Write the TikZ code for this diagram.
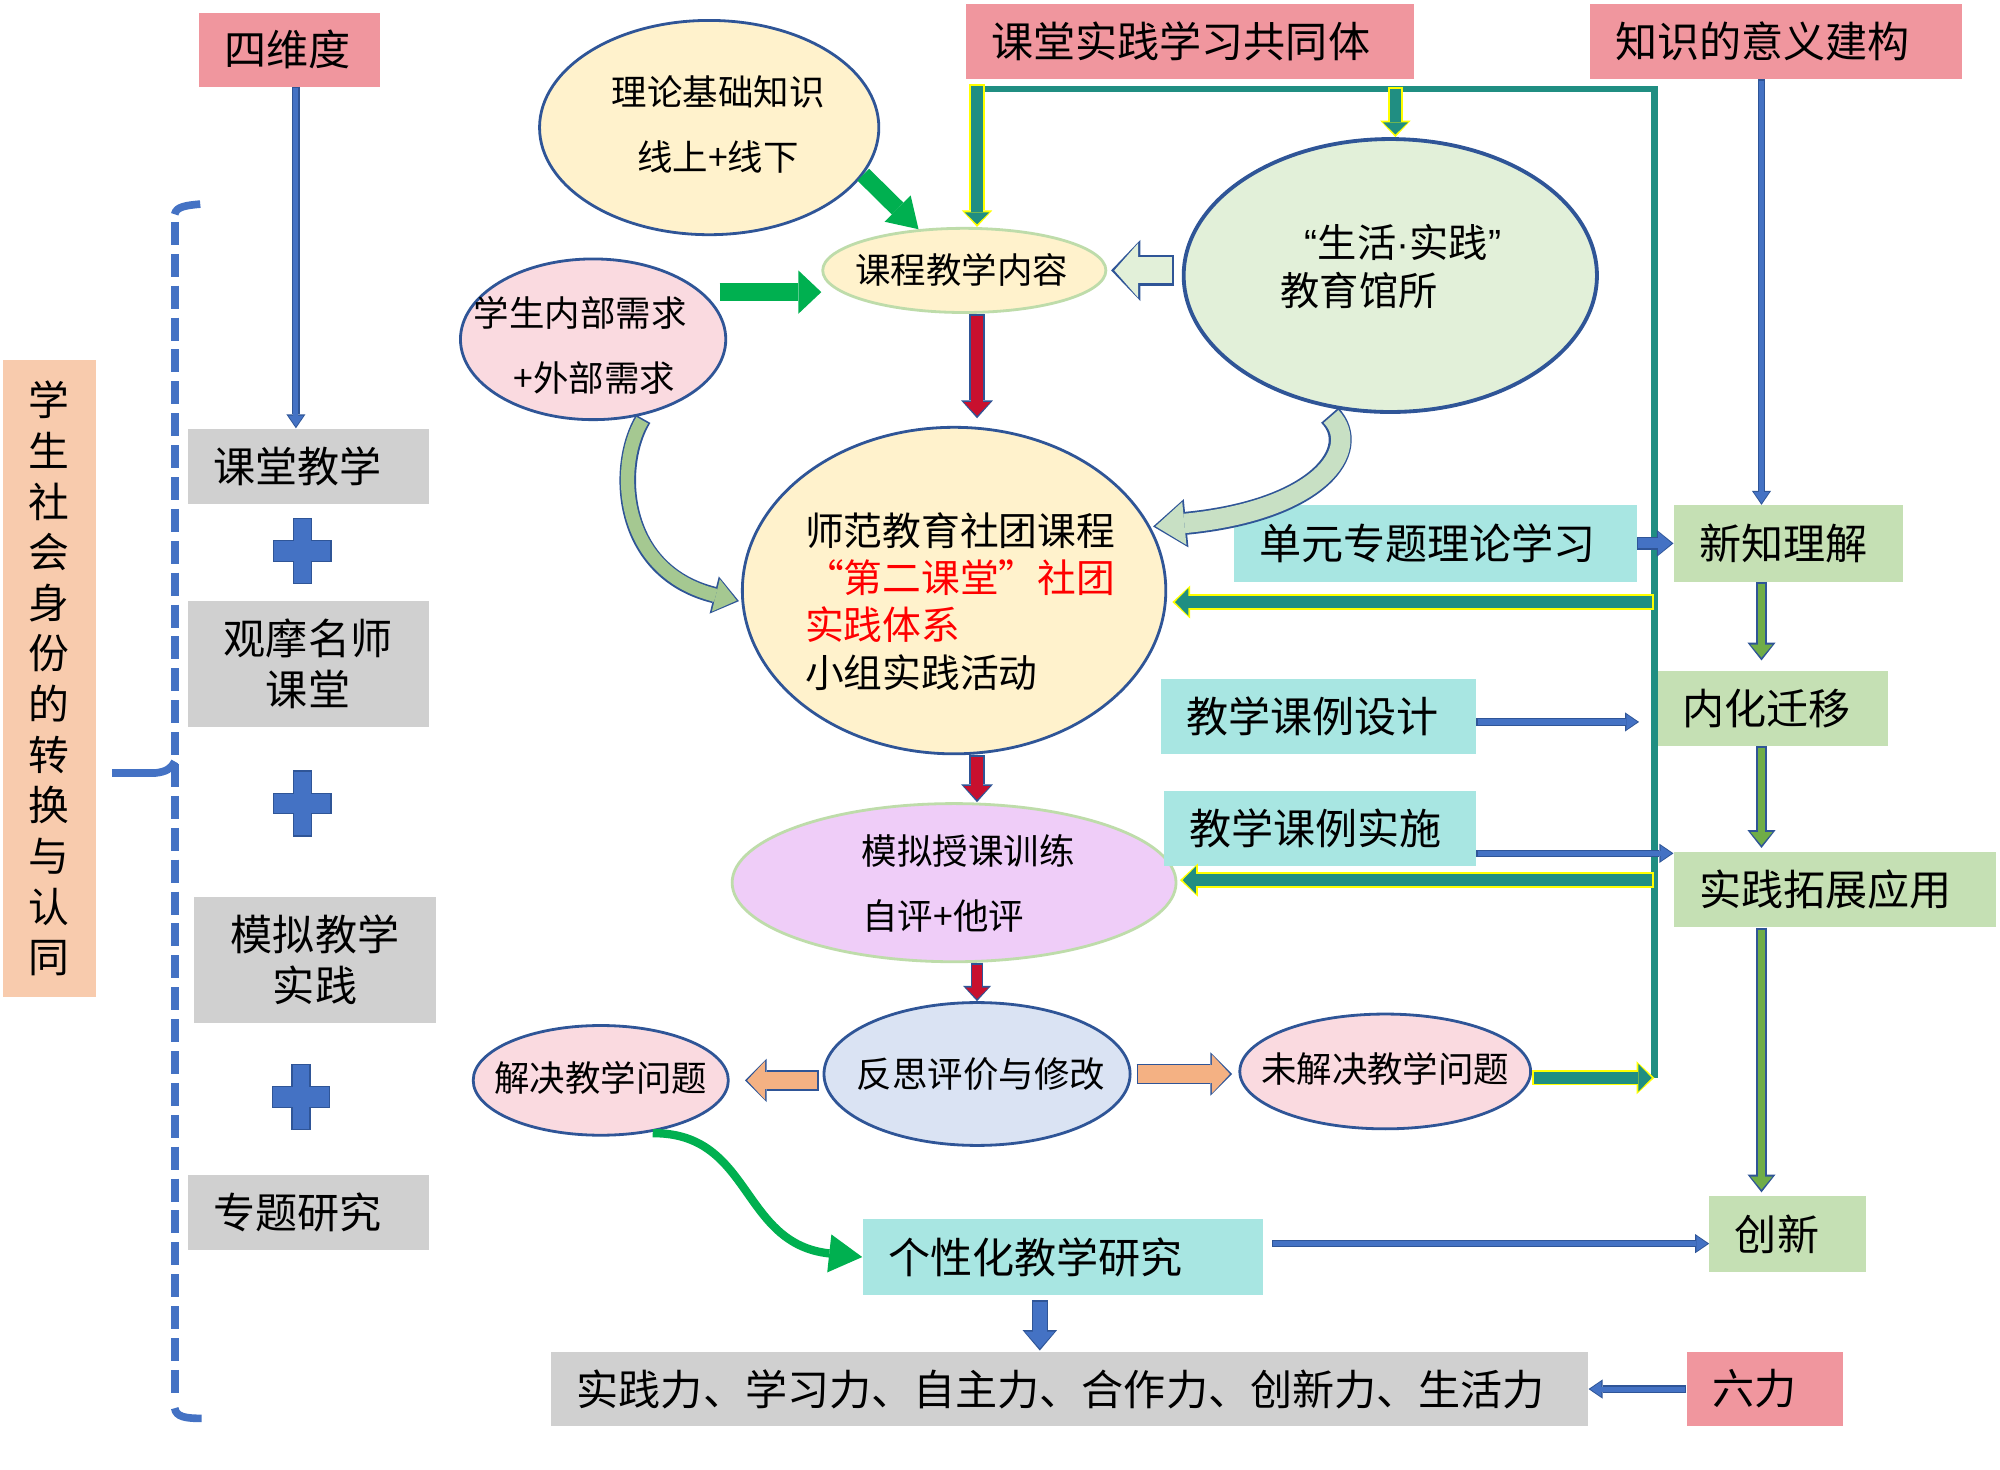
\documentclass[tikz,border=0pt]{standalone}
\usepackage{fontspec}
\setmainfont{Noto Sans CJK SC}
\newfontfamily\latinf{Liberation Sans}
\usetikzlibrary{shapes.geometric,arrows.meta,calc}
\definecolor{pinkc}{RGB}{240,150,158}
\definecolor{grayc}{RGB}{208,208,208}
\definecolor{cyanc}{RGB}{168,230,226}
\definecolor{gboxc}{RGB}{197,224,180}
\definecolor{orangeL}{RGB}{248,203,173}
\definecolor{bluec}{RGB}{68,114,196}
\definecolor{bluedk}{RGB}{47,85,151}
\definecolor{tealc}{RGB}{32,142,130}
\definecolor{yellowc}{RGB}{255,255,0}
\definecolor{redc}{RGB}{200,16,46}
\definecolor{redt}{RGB}{255,0,0}
\definecolor{greenc}{RGB}{0,176,80}
\definecolor{greenarr}{RGB}{112,173,71}
\definecolor{ylwfill}{RGB}{255,242,204}
\definecolor{pinkfill}{RGB}{250,218,224}
\definecolor{lgfill}{RGB}{226,240,217}
\definecolor{violetfill}{RGB}{239,205,248}
\definecolor{lbluefill}{RGB}{218,227,243}
\definecolor{lgborder}{RGB}{190,220,170}
\definecolor{orangeA}{RGB}{244,177,131}
\definecolor{cgreenL}{RGB}{165,200,145}
\definecolor{cgreenR}{RGB}{200,224,196}
\newcommand\FBig{\fontsize{33pt}{40pt}\selectfont}
\newcommand\FSm{\fontsize{27.8pt}{34pt}\selectfont}
\newcommand\FMid{\fontsize{30.4pt}{37pt}\selectfont}
\newcommand\FShg{\fontsize{30.8pt}{37pt}\selectfont}
\newcommand\FVert{\fontsize{32pt}{39.7pt}\selectfont}
% outline colour, fill colour, shaft width, head width, head length, outline, shorten start, shorten end, path
\newcommand\blockarr[9]{%
  \pgfmathsetlengthmacro\bwA{#3pt-2*#6pt}%
  \pgfmathsetlengthmacro\bwB{#4pt-3*#6pt}%
  \pgfmathsetlengthmacro\bwC{#5pt-2.4*#6pt}%
  \pgfmathsetlengthmacro\bwD{#8pt+1.4*#6pt}%
  \pgfmathsetlengthmacro\bwE{#7pt+#6pt}%
  \draw[draw=#1, line width=#3pt, shorten <=#7pt, shorten >=#8pt, -{Triangle[length=#5pt, width=#4pt, line width=0pt]}] #9;
  \edef\bwcmd{\noexpand\draw[draw=#2, line width=\bwA, shorten <=\bwE, shorten >=\bwD, -{Triangle[length=\bwC, width=\bwB, line width=0pt]}]}%
  \bwcmd #9;
}
\newcommand\plusat[2]{%
  \filldraw[fill=bluec, draw=bluedk, line width=1pt, shift={(#1,#2)}]
  (-7,-25.5) -- (7,-25.5) -- (7,-8) -- (22.5,-8) -- (22.5,8) -- (7,8) -- (7,25.5)
  -- (-7,25.5) -- (-7,8) -- (-22.5,8) -- (-22.5,-8) -- (-7,-8) -- cycle;}
\begin{document}
\begin{tikzpicture}[x=1pt,y=-1pt,
  rb/.style={rectangle, anchor=west, inner xsep=20pt, inner ysep=0pt, align=left, font=\FBig},
  cb/.style={rectangle, inner sep=0pt, align=center, font=\fontsize{33pt}{40pt}\selectfont},
  ell/.style={ellipse, inner sep=0pt, line width=2.2pt},
  txt/.style={inner sep=0pt, align=center, font=\FSm},
  brk/.style={draw=bluec, line width=6pt}]
\fill[white] (0,0) rectangle (1568,1152);
\useasboundingbox (0,0) rectangle (1568,1152);

% ---- left column ----
\node[fill=orangeL, minimum width=73pt, minimum height=500pt, inner sep=0pt, align=center, font=\FVert] (idn) at (38.5,532) {学\\生\\社\\会\\身\\份\\的\\转\\换\\与\\认\\同};
\draw[brk, dash pattern=on 18pt off 7pt] (137,174) -- (137,1098);
\draw[brk] (137,168) .. controls (138,162) and (146,161) .. (157,160);
\draw[brk] (137,1104) .. controls (138,1111) and (146,1112) .. (158,1112);
\draw[brk] (88,606) -- (122,606) .. controls (130,605) and (134,603) .. (137,597);

\node[rb, fill=pinkc, text width=102pt, minimum height=58pt] (wd) at (156,39) {四维度};
\node[rb, fill=grayc, text width=149pt, minimum height=59pt] (g1) at (147,365.5) {课堂教学};
\node[cb, fill=grayc, minimum width=189pt, minimum height=99pt] (g2) at (241.5,520.5) {观摩名师\\课堂};
\node[cb, fill=grayc, minimum width=190pt, minimum height=99pt] (g3) at (247,752.5) {模拟教学\\实践};
\node[rb, fill=grayc, text width=149pt, minimum height=59pt] (g4) at (147,950.5) {专题研究};
\plusat{237}{432}
\plusat{237}{630}
\plusat{236}{860}

% ---- top labels ----
\node[rb, fill=pinkc, text width=311pt, minimum height=59pt] (kt) at (757,32.5) {课堂实践学习共同体};
\node[rb, fill=pinkc, text width=252pt, minimum height=59pt] (zs) at (1246,32.5) {知识的意义建构};

% ---- ellipses ----
\node[ell, fill=ylwfill, draw=bluedk, minimum width=266pt, minimum height=168pt] (el1) at (556,100) {};
\node[ell, fill=ylwfill, draw=lgborder, minimum width=222pt, minimum height=66pt] (el2) at (756,212) {};
\node[ell, fill=pinkfill, draw=bluedk, minimum width=208pt, minimum height=126pt] (el3) at (465,266) {};
\node[ell, fill=lgfill, draw=bluedk, line width=3pt, minimum width=324pt, minimum height=214pt] (el4) at (1090,216) {};
\node[ell, fill=ylwfill, draw=bluedk, minimum width=332pt, minimum height=256pt] (el5) at (748,463) {};
\node[ell, fill=violetfill, draw=lgborder, minimum width=348pt, minimum height=124pt] (el6) at (748,692) {};
\node[ell, fill=lbluefill, draw=bluedk, minimum width=240pt, minimum height=112pt] (el7) at (766,842) {};
\node[ell, fill=pinkfill, draw=bluedk, minimum width=200pt, minimum height=86pt] (el8) at (471,847) {};
\node[ell, fill=pinkfill, draw=bluedk, minimum width=228pt, minimum height=90pt] (el9) at (1086,840) {};

\node[txt, font=\fontsize{27.8pt}{51pt}\selectfont] (t1) at (563,97.5) {理论基础知识\\线上+线下};
\node[txt] (t2) at (754,212) {课程教学内容};
\node[txt] (t3a) at (455,245) {学生内部需求};
\node[txt] (t3b) at (466,296) {+外部需求};
\node[txt, font=\FShg] (t4a) at (1100,190) {{\latinf “}生活{\latinf ·}实践{\latinf ”}};
\node[txt, font=\FShg] (t4b) at (1065.5,228) {教育馆所};
\node[txt, anchor=west, align=left, font=\FMid] (t5) at (631,471.5) {师范教育社团课程\\\textcolor{redt}{“第二课堂”社团}\\\textcolor{redt}{实践体系}\\小组实践活动};
\node[txt] (t6a) at (759,667) {模拟授课训练};
\node[txt] (t6b) at (739.5,718) {自评+他评};
\node[txt] (t7) at (769,842) {反思评价与修改};
\node[txt] (t8) at (471,845) {解决教学问题};
\node[txt] (t9) at (1086,838) {未解决教学问题};

% ---- cyan boxes ----
\node[rb, fill=cyanc, text width=276pt, minimum height=60pt] (dy) at (967,426) {单元专题理论学习};
\node[rb, fill=cyanc, text width=207pt, minimum height=59pt] (jx) at (910,561.5) {教学课例设计};
\node[rb, fill=cyanc, text width=205pt, minimum height=59pt] (js) at (912,649.5) {教学课例实施};
\node[rb, fill=cyanc, text width=274pt, minimum height=59pt] (gx) at (676,985.5) {个性化教学研究};

% ---- green boxes ----
\node[rb, fill=gboxc, text width=140pt, minimum height=60pt] (xn) at (1312,426) {新知理解};
\node[rb, fill=gboxc, text width=141pt, minimum height=59pt] (nh) at (1299,555.5) {内化迁移};
\node[rb, fill=gboxc, text width=213pt, minimum height=59pt] (sj) at (1312,697.5) {实践拓展应用};
\node[rb, fill=gboxc, text width=83pt, minimum height=59pt] (cx) at (1340,967.5) {创新};

% ---- bottom ----
\node[rb, fill=grayc, text width=773pt, minimum height=58pt] (bot) at (432,1089) {实践力、学习力、自主力、合作力、创新力、生活力};
\node[rb, fill=pinkc, text width=83pt, minimum height=58pt] (liuli) at (1322,1089) {六力};

% ---- teal frame ----
\coordinate (fL) at (763,70);
\coordinate (fTL) at (766,66);
\coordinate (fT2) at (1094,68);
\coordinate (fTR) at (1297,70);
\coordinate (fBR) at (1297,845);
\coordinate (f1) at (1297,472);
\coordinate (f2) at (1297,690);
\draw[draw=tealc, line width=5pt] (fL) -- (fTR) -- (fBR);
\blockarr{yellowc}{tealc}{12}{24}{13}{1.5}{0}{0}{(fTL) -- (fTL |- el2.north)}
\blockarr{yellowc}{tealc}{12}{24}{13}{1.5}{0}{0}{(fT2) -- (fT2 |- el4.north)}
\blockarr{yellowc}{tealc}{12}{26}{14}{1.5}{0}{4}{(f1) -- (f1 -| el5.east)}
\blockarr{yellowc}{tealc}{12}{26}{14}{1.5}{0}{2}{(f2) -- (f2 -| el6.east)}
\blockarr{yellowc}{tealc}{12}{26}{14}{1.5}{0}{0}{(el9.east |- fBR) -- (fBR)}

% ---- red spine ----
\coordinate (redx) at (766,0);
\blockarr{bluedk}{redc}{12}{25}{14}{1.4}{0}{6}{(el2.south -| redx) -- (el5.north -| redx)}
\blockarr{bluedk}{redc}{12}{25}{14}{1.4}{0}{0}{(el5.south -| redx) -- (el6.north -| redx)}
\blockarr{bluedk}{redc}{10}{22}{12}{1.3}{0}{0}{(el6.south -| redx) -- (el7.north -| redx)}

% ---- right column ----
\coordinate (colx) at (1381,0);
\coordinate (c1x) at (232,0);
\blockarr{bluedk}{bluec}{6}{15}{11}{1}{0}{0}{(wd.south -| c1x) -- (g1.north -| c1x)}
\blockarr{bluedk}{bluec}{6}{15}{11}{1}{0}{0}{(zs.south -| colx) -- (xn.north -| colx)}
\blockarr{bluedk}{greenarr}{9}{22}{14}{1.6}{0}{8}{(xn.south -| colx) -- (nh.north -| colx)}
\blockarr{bluedk}{greenarr}{9}{22}{14}{1.6}{0}{3}{(nh.south -| colx) -- (sj.north -| colx)}
\blockarr{bluedk}{greenarr}{9}{22}{14}{1.6}{0}{3}{(sj.south -| colx) -- (cx.north -| colx)}
\blockarr{bluedk}{bluec}{10}{21}{13}{1}{0}{0}{(dy.east) -- (xn.west)}

\coordinate (r5) at ($(jx.east)+(0,4.5)$);
\coordinate (r6) at ($(js.east)+(0,19.5)$);
\coordinate (r7) at ($(gx.east)+(7,-10.5)$);
\coordinate (r9) at ($(gx.south)+(-18,4)$);
\blockarr{bluedk}{bluec}{6}{15}{11}{1}{0}{14}{(r5) -- (r5 -| nh.west)}
\blockarr{bluedk}{bluec}{6}{15}{11}{1}{0}{0}{(r6) -- (r6 -| sj.west)}
\blockarr{bluedk}{bluec}{6}{15}{11}{1}{0}{0}{(r7) -- (r7 -| cx.west)}
\blockarr{bluedk}{bluec}{6}{15}{11}{1}{0}{0}{(liuli.west) -- (bot.east)}
\blockarr{bluedk}{bluec}{13}{27}{16}{1.2}{0}{1}{(r9) -- (r9 |- bot.north)}

% ---- orange ----
\coordinate (oy) at (0,847);
\blockarr{bluedk}{orangeA}{16}{34}{17}{1.2}{3}{12}{(el7.west |- oy) -- (el8.east |- oy)}
\blockarr{bluedk}{orangeA}{16}{34}{17}{1.2}{4}{5}{(el7.east) -- (el9.west |- el7.east)}

% ---- green inputs ----
\coordinate (gy) at (0,229);
\draw[draw=greenc, line width=13pt, -{Triangle[length=23pt,width=29pt,line width=0pt]}] (el1.-17) -- (el2.138);
\draw[draw=greenc, line width=14pt, shorten <=-6pt, -{Triangle[length=18pt,width=34pt,line width=0pt]}] (el3.east |- gy) -- (gy -| el2.west);
\blockarr{bluedk}{lgfill}{24}{48}{23}{1.8}{6}{3}{(el4.west |- el2.east) -- (el2.east)}

% ---- curved arrows ----
\blockarr{bluedk}{cgreenL}{13}{30}{20}{1.3}{4}{2}{(el3.-55) .. controls (482,365) and (485,448) .. (el5.183)}
\blockarr{bluedk}{cgreenR}{18}{38}{26}{1.4}{10}{2}{(el4.-118) .. controls (1068,352) and (1035,400) .. (el5.18)}
\draw[draw=greenc, line width=6.5pt, shorten <=6pt, -{Triangle[length=26pt,width=30pt,line width=0pt]}] (el8.-50) .. controls (590,888) and (580,975) .. (gx.west);
\end{tikzpicture}
\end{document}
